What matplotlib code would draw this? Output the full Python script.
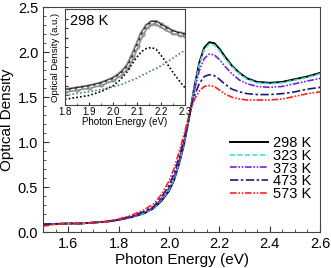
import matplotlib.pyplot as plt
from matplotlib.ticker import MultipleLocator

plt.rcParams['font.family'] = ['Liberation Sans', 'DejaVu Sans']

energy = [1.50, 1.55, 1.60, 1.65, 1.70, 1.75, 1.80, 1.85, 1.90, 1.94, 1.97, 2.00,
          2.02, 2.04, 2.06, 2.08, 2.10, 2.12, 2.14, 2.16, 2.18, 2.20, 2.22, 2.25,
          2.28, 2.31, 2.35, 2.40, 2.45, 2.50, 2.55, 2.60]
od_298 = [0.09, 0.095, 0.10, 0.10, 0.11, 0.12, 0.14, 0.17, 0.21, 0.27, 0.35, 0.46,
          0.58, 0.76, 0.98, 1.27, 1.60, 1.88, 2.05, 2.11, 2.10, 2.04, 1.96, 1.85,
          1.77, 1.71, 1.67, 1.66, 1.67, 1.70, 1.73, 1.77]
od_323 = [0.09, 0.095, 0.10, 0.10, 0.11, 0.12, 0.14, 0.17, 0.21, 0.27, 0.36, 0.47,
          0.59, 0.77, 0.99, 1.28, 1.59, 1.86, 2.03, 2.09, 2.08, 2.02, 1.94, 1.84,
          1.76, 1.70, 1.66, 1.65, 1.66, 1.69, 1.72, 1.76]
od_373 = [0.09, 0.095, 0.10, 0.10, 0.11, 0.12, 0.14, 0.17, 0.22, 0.28, 0.37, 0.49,
          0.61, 0.79, 1.01, 1.29, 1.57, 1.79, 1.93, 1.98, 1.97, 1.92, 1.85, 1.76,
          1.69, 1.65, 1.62, 1.61, 1.62, 1.65, 1.68, 1.71]
od_473 = [0.09, 0.095, 0.10, 0.10, 0.11, 0.12, 0.14, 0.18, 0.23, 0.29, 0.39, 0.52,
          0.65, 0.83, 1.04, 1.29, 1.51, 1.65, 1.73, 1.75, 1.74, 1.70, 1.65, 1.59,
          1.56, 1.54, 1.53, 1.53, 1.54, 1.56, 1.59, 1.61]
od_573 = [0.07, 0.09, 0.10, 0.10, 0.11, 0.12, 0.15, 0.19, 0.25, 0.32, 0.42, 0.57,
          0.71, 0.89, 1.09, 1.30, 1.47, 1.57, 1.62, 1.63, 1.62, 1.58, 1.54, 1.50,
          1.48, 1.47, 1.47, 1.47, 1.48, 1.51, 1.54, 1.56]

# inset: 298 K fit
e_in = [1.80, 1.85, 1.90, 1.95, 2.00, 2.03, 2.06, 2.08, 2.10, 2.12, 2.14, 2.16,
        2.18, 2.20, 2.22, 2.25, 2.28, 2.30]
meas = [0.15, 0.17, 0.19, 0.22, 0.27, 0.32, 0.40, 0.50, 0.62, 0.74, 0.82, 0.86,
        0.86, 0.83, 0.80, 0.76, 0.74, 0.73]
peak = [0.06, 0.08, 0.10, 0.14, 0.20, 0.26, 0.35, 0.43, 0.50, 0.56, 0.59, 0.60,
        0.58, 0.52, 0.45, 0.34, 0.24, 0.18]
backgr = [0.10, 0.12, 0.14, 0.16, 0.19, 0.21, 0.24, 0.26, 0.28, 0.31, 0.33, 0.36,
          0.38, 0.41, 0.44, 0.49, 0.54, 0.57]

fig = plt.figure(figsize=(3.31, 2.68), dpi=100)
ax = fig.add_axes([0.130, 0.1325, 0.837, 0.841])

ax.plot(energy, od_298, color='black', lw=1.4, label='298 K')
ax.plot(energy, od_323, color='#40e0d0', lw=1.2, ls=(0, (3, 1.5)), label='323 K')
ax.plot(energy, od_373, color='#7a1fe0', lw=1.2, ls=(0, (4, 1, 1, 1, 1, 1)), label='373 K')
ax.plot(energy, od_473, color='#1a1a80', lw=1.2, ls=(0, (5, 1.5, 1.5, 1.5)), label='473 K')
ax.plot(energy, od_573, color='#ff2020', lw=1.2, ls=(0, (4, 1, 1, 1, 1, 1)), label='573 K')

ax.set_xlim(1.5, 2.6)
ax.set_ylim(0, 2.5)
ax.xaxis.set_major_locator(MultipleLocator(0.2))
ax.xaxis.set_minor_locator(MultipleLocator(0.05))
ax.yaxis.set_major_locator(MultipleLocator(0.5))
ax.yaxis.set_minor_locator(MultipleLocator(0.1))
ax.tick_params(which='both', direction='in', colors='#333333', labelcolor='black', labelsize=10.5)
ax.tick_params(which='major', length=4)
ax.tick_params(which='minor', length=2)
for s in ax.spines.values():
    s.set_color('#444444')
ax.set_xlabel('Photon Energy (eV)', fontsize=11, labelpad=1)
ax.set_ylabel('Optical Density', fontsize=11, labelpad=3)

ax.legend(loc='lower right', bbox_to_anchor=(1.0, 0.1), frameon=False, fontsize=10.5,
          handlelength=2.6, handletextpad=0.35, labelspacing=-0.08, borderaxespad=0.2)

ins = fig.add_axes([0.196, 0.608, 0.363, 0.358])
ins.plot(e_in, meas, color='#999999', lw=3.5, marker='o', ms=3.5, mfc='none', mec='#888888', mew=0.8)
ins.plot(e_in, [m + 0.01 for m in meas], color='#222222', lw=1.0)
ins.plot(e_in, meas, color='white', lw=0.9, ls=(0, (3, 2)))
ins.plot(e_in, peak, color='black', lw=1.2, ls=(0, (1, 1.3)))
ins.plot(e_in, backgr, color='#4a7f8f', lw=1.2, ls=(0, (1, 1.3)))
ins.set_xlim(1.8, 2.3)
ins.set_ylim(0, 1)
ins.xaxis.set_major_locator(MultipleLocator(0.1))
ins.xaxis.set_minor_locator(MultipleLocator(0.05))
ins.yaxis.set_major_locator(MultipleLocator(0.1))
ins.set_yticklabels([])
ins.tick_params(which='both', direction='in', colors='#333333', labelcolor='black', labelsize=7, pad=1.5)
ins.tick_params(which='major', length=2.5)
ins.tick_params(which='minor', length=1.5)
for s in ins.spines.values():
    s.set_color('#444444')
ins.set_xlabel('Photon Energy (eV)', fontsize=7, labelpad=0)
ins.set_ylabel('Optical Density (a.u.)', fontsize=6.8, labelpad=2)
ins.text(0.04, 0.95, '298 K', transform=ins.transAxes, fontsize=10.5, va='top', ha='left')

fig.savefig('out.png', dpi=100)
